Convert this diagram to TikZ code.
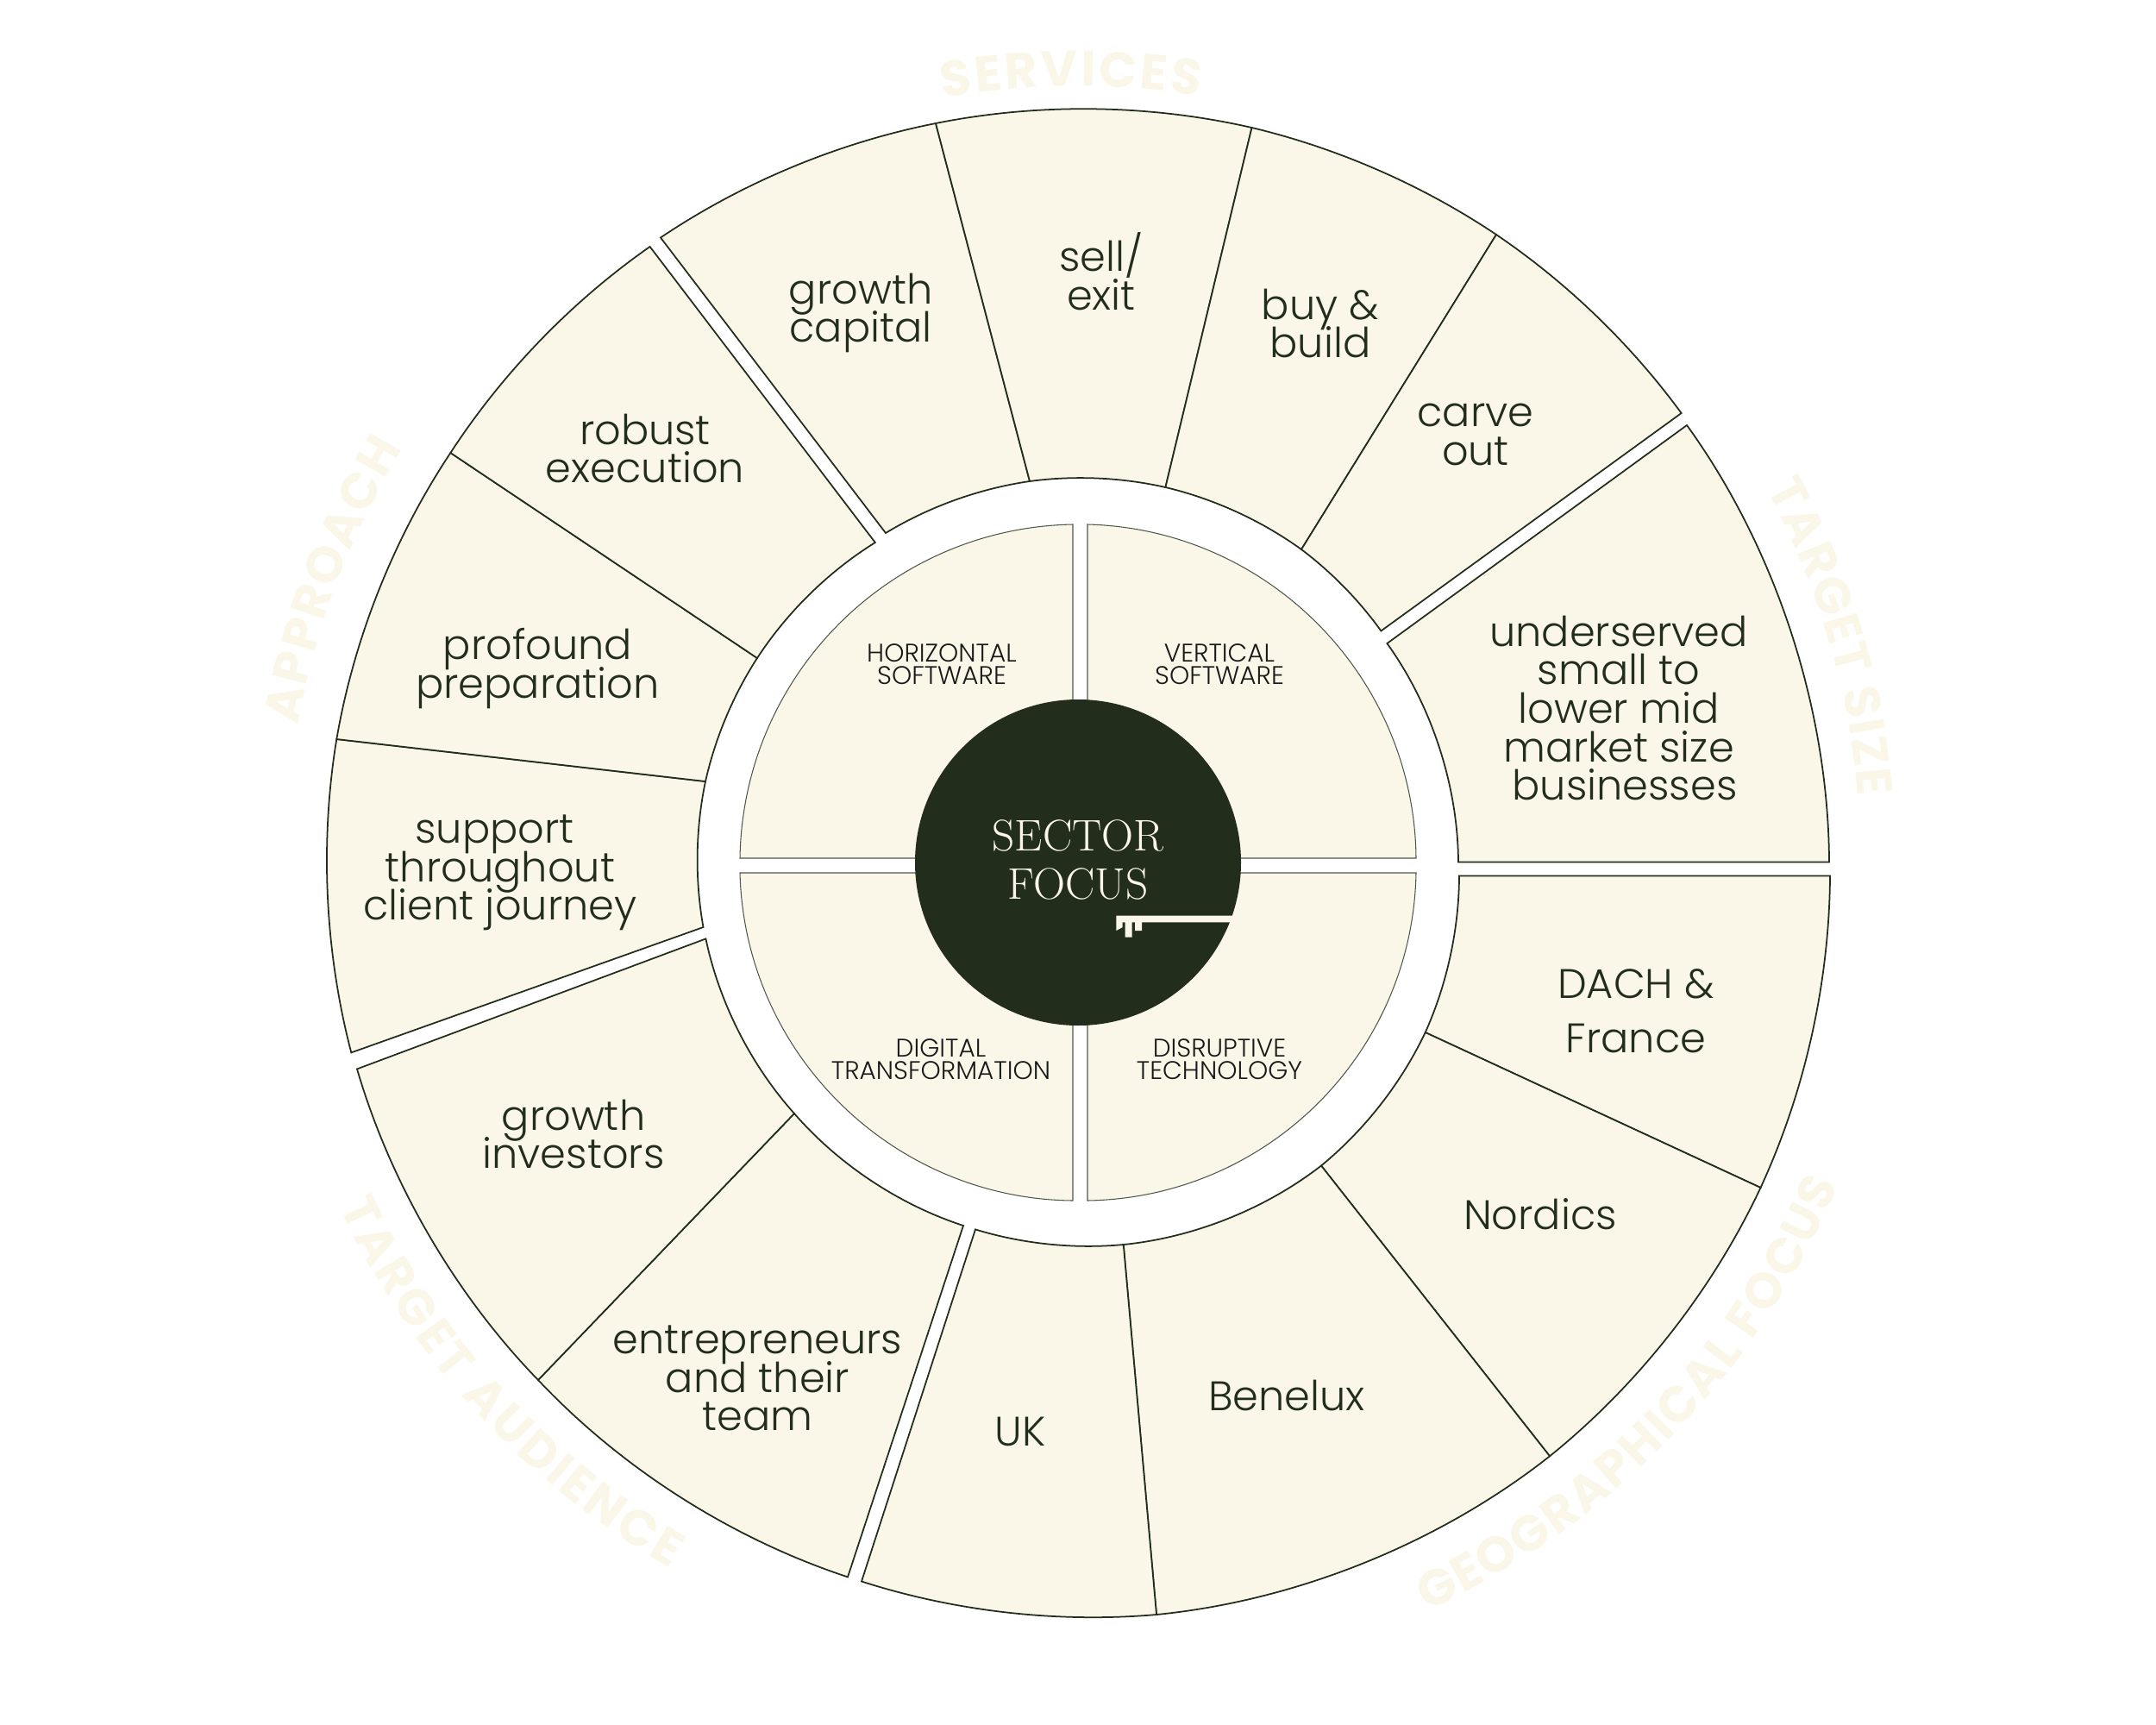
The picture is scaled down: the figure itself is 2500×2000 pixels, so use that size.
\documentclass[tikz,border=0pt]{standalone}
\usepackage{fontspec}
\setmainfont{Poppins}[UprightFont=* Light,BoldFont=* Bold]
\newfontfamily\hubfont{Latin Modern Roman}
\usepackage{tikz}
\usetikzlibrary{decorations.text}
\setlength{\lineskiplimit}{-30pt}
\setlength{\normallineskiplimit}{-30pt}
\definecolor{wheelcream}{HTML}{FAF7E9}
\definecolor{wheeldark}{HTML}{222D1C}
\newcommand{\wheelcell}[6]{\filldraw[cellshape] #1 to[bend left=#5] #2 -- #3 to[bend right=#6] #4 -- cycle;}
\newcommand{\ringtitle}[4]{\path[decorate,decoration={text along path,text align={fit to path},text={|\fontsize{16.5}{16.5}\bfseries\color{wheelcream}|#4}}] (1250,-1000) ++(#1:#3) arc[start angle=#1,end angle=#2,radius=#3];}
\tikzset{
  cellshape/.style={draw=wheeldark,fill=wheelcream,line width=0.5pt,looseness=0.85},
  quadshape/.style={draw=wheeldark!80,fill=wheelcream,line width=0.3pt,looseness=0.99},
  cellname/.style={align=center,text=wheeldark,font=\fontsize{13.6}{12.7}\selectfont,inner sep=0pt},
  quadname/.style={align=center,text=black!90,font=\fontsize{8.4}{7.4}\selectfont,inner sep=0pt},
}
\begin{document}
\begin{tikzpicture}[x=0.01cm,y=0.01cm]
\useasboundingbox (0,0) rectangle (2500,-2000);
% ---- outer wheel, clockwise from growth capital ----
\wheelcell{(766,-275.5)}{(1085,-143)}{(1194,-558)}{(1027,-618)}{11.4}{11.5}
\wheelcell{(1085,-143)}{(1451.5,-148)}{(1351.4,-565)}{(1194,-558)}{12.1}{10.2}
\wheelcell{(1451.5,-148)}{(1735,-272)}{(1509,-637)}{(1351.4,-565)}{10.2}{11.2}
\wheelcell{(1735,-272)}{(1949.6,-479)}{(1601.4,-731.5)}{(1509,-637)}{9.8}{8.6}
\wheelcell{(1956,-493)}{(2121,-999.5)}{(1691,-999.5)}{(1608.4,-746)}{17.8}{17.7}
\wheelcell{(2122,-1015.4)}{(2041.5,-1377)}{(1652.7,-1197)}{(1692,-1015.4)}{12.2}{12}
\wheelcell{(2041.5,-1377)}{(1797,-1688.3)}{(1532,-1351.5)}{(1652.7,-1197)}{13}{12.6}
\wheelcell{(1797,-1688.3)}{(1341,-1872)}{(1302.7,-1443)}{(1532,-1351.5)}{16.3}{16}
\wheelcell{(1341,-1872)}{(999,-1833.5)}{(1131,-1425.4)}{(1302.7,-1443)}{11.4}{11.2}
\wheelcell{(983,-1828.4)}{(624,-1600)}{(921,-1291)}{(1117,-1421)}{14.2}{15.5}
\wheelcell{(624,-1600)}{(414,-1239.4)}{(818.4,-1088.4)}{(921,-1291)}{13.9}{15}
\wheelcell{(407.3,-1220.4)}{(390.3,-857)}{(818,-906)}{(815.5,-1075)}{12}{11}
\wheelcell{(390.3,-857)}{(522.4,-525)}{(878,-763)}{(818,-906)}{11.9}{10.1}
\wheelcell{(522.4,-525)}{(753.6,-286)}{(1014.8,-629)}{(878,-763)}{11}{12.5}
% ---- four quarters round the hub ----
\filldraw[quadshape] (1244,-995) -- (1244,-608) to[bend right=44] (858,-995) -- cycle;
\filldraw[quadshape] (1261,-995) -- (1261,-608) to[bend left=44] (1642,-995) -- cycle;
\filldraw[quadshape] (1261,-1012) -- (1642,-1012) to[bend left=44] (1261,-1392) -- cycle;
\filldraw[quadshape] (1244,-1012) -- (858,-1012) to[bend right=44] (1244,-1392) -- cycle;
% ---- hub and key ----
\fill[wheeldark] (1250,-1000) circle (189);
\fill[wheelcream] (1294.3,-1061.7) -- (1430,-1061.7) -- (1426.3,-1069.3) -- (1324,-1069.3) -- (1324,-1079) -- (1316,-1079) -- (1316,-1069.3) -- (1312.7,-1069.3) -- (1312.7,-1086.7) -- (1304.7,-1086.7) -- (1304.7,-1069.3) -- (1301.7,-1069.3) -- (1301.7,-1075) -- (1294.3,-1079) -- cycle;
\node[align=center,text=wheelcream,font=\hubfont\fontsize{14.6}{16}\selectfont,inner sep=0pt] (sector) at (1250,-997) {SECTOR\\FOCUS};
% ---- outer labels ----
\node[cellname] (capital) at (998,-363) {growth\\capital};
\node[cellname] (exit) at (1277,-315) {sell/\\exit};
\node[cellname] (build) at (1531,-375) {buy \&\\build};
\node[cellname] (carve) at (1711,-504) {carve\\out};
\node[cellname] (size) at (1877,-821) {underserved\\small to\\lower mid\\market size\\\hspace*{4pt}businesses};
\node[cellname,font=\fontsize{13.6}{18}\selectfont] (dach) at (1897,-1172) {DACH \&\\France};
\node[cellname] (nordics) at (1786,-1408) {Nordics};
\node[cellname] (benelux) at (1492,-1618) {Benelux};
\node[cellname] (uk) at (1183,-1660) {UK};
\node[cellname] (team) at (878.5,-1598) {entrepreneurs\\and their\\team};
\node[cellname] (investors) at (665,-1315) {growth\\investors};
\node[cellname] (journey) at (580,-1012) {support\hspace*{3.6pt}\\throughout\\client journey};
\node[cellname] (preparation) at (623.5,-775) {profound\\preparation};
\node[cellname] (execution) at (748,-520) {robust\\execution};
% ---- quarter labels ----
\node[quadname] (horizontal) at (1092,-770) {HORIZONTAL\\SOFTWARE};
\node[quadname] (vertical) at (1414,-770) {VERTICAL\\SOFTWARE};
\node[quadname] (digital) at (1091,-1228) {DIGITAL\\TRANSFORMATION};
\node[quadname] (disruptive) at (1414,-1228) {DISRUPTIVE\\TECHNOLOGY};
% ---- ring titles ----
\ringtitle{100}{81}{900}{SERVICES}
\ringtitle{28.5}{4.8}{908}{TARGET SIZE}
\ringtitle{295}{337}{958}{GEOGRAPHICAL FOCUS}
\ringtitle{205}{240}{945}{TARGET AUDIENCE}
\ringtitle{170}{148.5}{918}{APPROACH}
\end{tikzpicture}
\end{document}
